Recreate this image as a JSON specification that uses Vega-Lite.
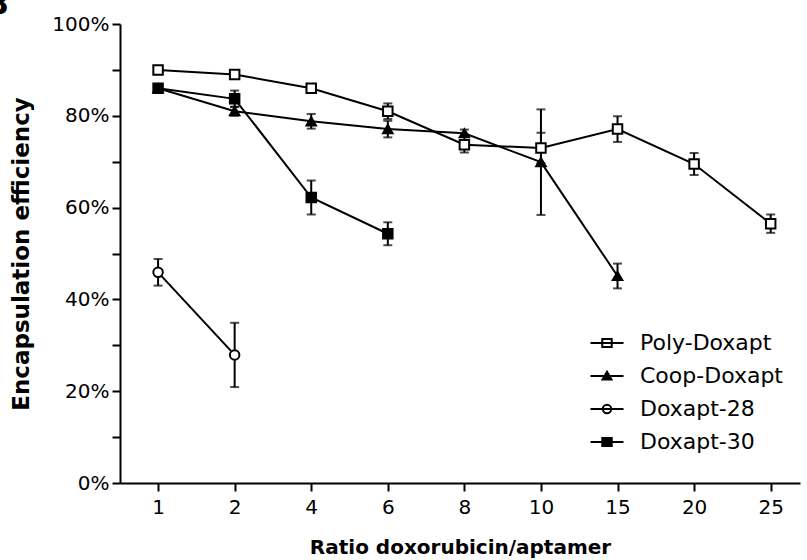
{
  "$schema": "https://vega.github.io/schema/vega-lite/v6.json",
  "width": 680,
  "height": 459,
  "autosize": {"type": "none"},
  "padding": {"left": 120, "top": 24, "right": 7, "bottom": 77},
  "background": "white",
  "config": {
    "view": {"stroke": null},
    "font": "DejaVu Sans",
    "axis": {
      "grid": false,
      "domainColor": "black",
      "domainWidth": 2,
      "tickColor": "black",
      "tickWidth": 2,
      "tickSize": 8,
      "labelColor": "black",
      "labelFont": "DejaVu Sans",
      "titleFont": "DejaVu Sans",
      "titleFontWeight": "bold",
      "titleColor": "black",
      "titleFontSize": 20
    },
    "legend": {
      "title": null,
      "orient": "none",
      "legendX": 476,
      "legendY": 308,
      "padding": 0,
      "symbolOffset": 0,
      "symbolSize": 110,
      "symbolStrokeWidth": 2,
      "symbolOpacity": 1,
      "labelFontSize": 22,
      "labelFont": "DejaVu Sans",
      "labelColor": "black",
      "labelOffset": 22,
      "rowPadding": 11
    }
  },
  "title": {
    "text": "B",
    "anchor": "start",
    "frame": "group",
    "fontSize": 30,
    "fontWeight": "bold",
    "font": "DejaVu Sans",
    "color": "black",
    "baseline": "top",
    "offset": 0,
    "dx": -134,
    "dy": 6
  },
  "data": {
    "values": [
      {"series": "Poly-Doxapt", "ratio": 1, "value": 90.0, "err": 0.5},
      {"series": "Poly-Doxapt", "ratio": 2, "value": 89.0, "err": 0.5},
      {"series": "Poly-Doxapt", "ratio": 4, "value": 86.0, "err": 0.5},
      {"series": "Poly-Doxapt", "ratio": 6, "value": 81.0, "err": 1.7},
      {"series": "Poly-Doxapt", "ratio": 8, "value": 73.7, "err": 1.7},
      {"series": "Poly-Doxapt", "ratio": 10, "value": 73.0, "err": 3.3},
      {"series": "Poly-Doxapt", "ratio": 15, "value": 77.1, "err": 2.8},
      {"series": "Poly-Doxapt", "ratio": 20, "value": 69.5, "err": 2.4},
      {"series": "Poly-Doxapt", "ratio": 25, "value": 56.5, "err": 2.0},
      {"series": "Coop-Doxapt", "ratio": 1, "value": 86.0, "err": 0.5},
      {"series": "Coop-Doxapt", "ratio": 2, "value": 81.0, "err": 1.0},
      {"series": "Coop-Doxapt", "ratio": 4, "value": 78.8, "err": 1.6},
      {"series": "Coop-Doxapt", "ratio": 6, "value": 77.1, "err": 1.8},
      {"series": "Coop-Doxapt", "ratio": 8, "value": 76.2, "err": 0.8},
      {"series": "Coop-Doxapt", "ratio": 10, "value": 69.9, "err": 11.5},
      {"series": "Coop-Doxapt", "ratio": 15, "value": 45.1, "err": 2.7},
      {"series": "Doxapt-28", "ratio": 1, "value": 45.9, "err": 2.9},
      {"series": "Doxapt-28", "ratio": 2, "value": 27.9, "err": 7.0},
      {"series": "Doxapt-30", "ratio": 1, "value": 86.0, "err": 0.8},
      {"series": "Doxapt-30", "ratio": 2, "value": 83.7, "err": 1.8},
      {"series": "Doxapt-30", "ratio": 4, "value": 62.2, "err": 3.7},
      {"series": "Doxapt-30", "ratio": 6, "value": 54.3, "err": 2.5}
    ]
  },
  "encoding": {
    "x": {
      "field": "ratio",
      "type": "ordinal",
      "scale": {"type": "point", "padding": 0.44, "align": 0.565},
      "axis": {
        "title": "Ratio doxorubicin/aptamer",
        "labelAngle": 0,
        "labelFontSize": 20,
        "labelPadding": 6,
        "titleY": 70,
        "titleBaseline": "alphabetic"
      }
    }
  },
  "layer": [
    {
      "mark": {"type": "line", "color": "black", "strokeWidth": 2},
      "encoding": {
        "y": {"field": "value", "type": "quantitative", "title": "Encapsulation efficiency"},
        "detail": {"field": "series"}
      }
    },
    {
      "mark": {"type": "errorbar", "color": "black", "thickness": 2, "ticks": {"size": 9, "thickness": 2, "color": "black"}},
      "encoding": {
        "y": {"field": "value", "type": "quantitative", "title": "Encapsulation efficiency"},
        "yError": {"field": "err"}
      }
    },
    {
      "mark": {"type": "point", "filled": true, "stroke": "black", "strokeWidth": 2, "opacity": 1, "size": 90},
      "encoding": {
        "y": {
          "field": "value",
          "type": "quantitative",
          "title": "Encapsulation efficiency",
          "scale": {"domain": [0, 100], "nice": false},
          "axis": {
            "values": [0, 10, 20, 30, 40, 50, 60, 70, 80, 90, 100],
            "labelExpr": "datum.value % 20 === 0 ? datum.value + '%' : ''",
            "labelFontSize": 20,
            "labelPadding": 3,
            "titleFontSize": 23,
            "titleX": -99,
            "titleBaseline": "middle"
          }
        },
        "shape": {
          "field": "series",
          "type": "nominal",
          "scale": {
            "domain": ["Poly-Doxapt", "Coop-Doxapt", "Doxapt-28", "Doxapt-30"],
            "range": ["square", "triangle-up", "circle", "square"]
          },
          "legend": null
        },
        "fill": {
          "field": "series",
          "type": "nominal",
          "scale": {
            "domain": ["Poly-Doxapt", "Coop-Doxapt", "Doxapt-28", "Doxapt-30"],
            "range": ["white", "black", "white", "black"]
          },
          "legend": null
        }
      }
    },
    {
      "transform": [{"filter": "datum.ratio < 0"}],
      "mark": {"type": "point", "filled": true, "strokeWidth": 2, "opacity": 1, "size": 110},
      "encoding": {
        "y": {"field": "value", "type": "quantitative", "title": "Encapsulation efficiency"},
        "shape": {
          "field": "series",
          "type": "nominal",
          "scale": {
            "domain": ["Poly-Doxapt", "Coop-Doxapt", "Doxapt-28", "Doxapt-30"],
            "range": [
              "M-3.15,0H3.15M-0.9,-0.75H0.9V0.75H-0.9Z",
              "M-3.15,0H3.15M0,-0.8L0.85,0.65L-0.85,0.65Z",
              "M-3.15,0H3.15M0.8,0A0.8,0.8 0 1,1 -0.8,0A0.8,0.8 0 1,1 0.8,0Z",
              "M-3.15,0H3.15M-0.9,-0.75H0.9V0.75H-0.9Z"
            ]
          }
        },
        "fill": {
          "field": "series",
          "type": "nominal",
          "scale": {
            "domain": ["Poly-Doxapt", "Coop-Doxapt", "Doxapt-28", "Doxapt-30"],
            "range": ["white", "black", "white", "black"]
          }
        },
        "stroke": {
          "field": "series",
          "type": "nominal",
          "scale": {
            "domain": ["Poly-Doxapt", "Coop-Doxapt", "Doxapt-28", "Doxapt-30"],
            "range": ["black", "black", "black", "black"]
          }
        }
      }
    }
  ],
  "resolve": {
    "scale": {"shape": "independent", "fill": "independent", "stroke": "independent"},
    "legend": {"shape": "independent", "fill": "independent", "stroke": "independent"}
  }
}
